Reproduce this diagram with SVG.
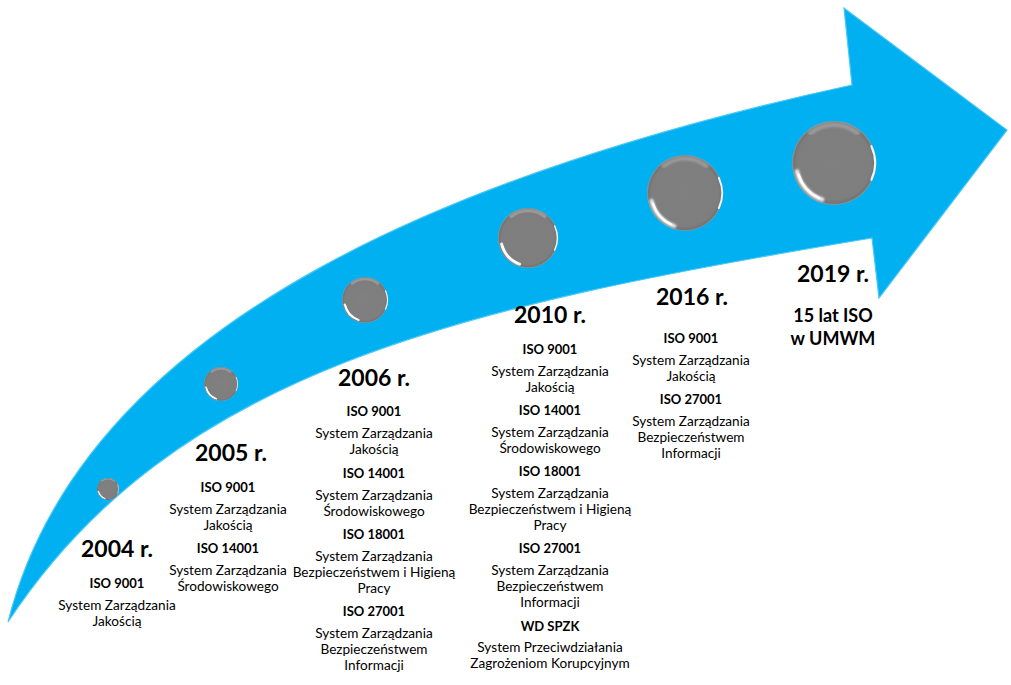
<svg xmlns="http://www.w3.org/2000/svg" xmlns:xlink="http://www.w3.org/1999/xlink" width="1011" height="685" viewBox="0 0 1011 685">
<defs>
<style>
.yr{font-family:Lato,"Liberation Sans",sans-serif;font-weight:bold;font-size:23px;fill:#000;text-anchor:middle}
.iso{font-family:Lato,"Liberation Sans",sans-serif;font-weight:bold;font-size:13px;fill:#000;text-anchor:middle}
.tx{font-family:Lato,"Liberation Sans",sans-serif;font-size:13.6px;fill:#000;text-anchor:middle}
.big{font-family:Lato,"Liberation Sans",sans-serif;font-weight:bold;font-size:18px;fill:#000;text-anchor:middle}
</style>
<radialGradient id="ballFill" cx="0.5" cy="0.5" r="0.5">
<stop offset="0" stop-color="#808080"/>
<stop offset="0.88" stop-color="#7e7e7e"/>
<stop offset="0.96" stop-color="#747474"/>
<stop offset="1" stop-color="#9a9a9a"/>
</radialGradient>
<filter id="soft" x="-20%" y="-20%" width="140%" height="140%">
<feGaussianBlur stdDeviation="1.2"/>
</filter>
<symbol id="ball" viewBox="-50 -50 100 100" overflow="visible">
<circle r="50" fill="url(#ballFill)"/>
<path d="M -28 -36 A 45 45 0 0 1 28 -36" fill="none" stroke="#bdbdbd" stroke-width="6" stroke-linecap="round" opacity="0.45" filter="url(#soft)"/>
<path d="M 44.5 -20 A 48 48 0 0 1 44.5 20" fill="none" stroke="#ffffff" stroke-width="2.5" stroke-linecap="round" opacity="0.9"/>
<path d="M -14 43.5 A 45.5 45.5 0 0 1 -44 10" fill="none" stroke="#ffffff" stroke-width="5" stroke-linecap="round" opacity="0.9" filter="url(#soft)"/>
<path d="M -18 41.5 A 45.5 45.5 0 0 1 -42 14" fill="none" stroke="#ffffff" stroke-width="3" stroke-linecap="round"/>
</symbol>
</defs>
<rect width="1011" height="685" fill="#ffffff"/>
<g id="connectors">
<path id="arrow" d="M 8 622 C 86 312 481 166 852 85 L 844 8 L 1007 130 L 879 298 L 872 238 C 457.5 306.5 173 371.5 8 622 Z" fill="#00B0F0" stroke="#4cc8f4" stroke-width="1.2" stroke-linejoin="miter"/>
</g>
<g id="y2004">
<use xlink:href="#ball" href="#ball" x="97" y="478" width="22" height="22"/>
<text class="yr" x="117" y="557">2004 r.</text>
<text class="iso" x="117" y="588">ISO 9001</text>
<text class="tx" x="117" y="610">System Zarządzania</text>
<text class="tx" x="117" y="626">Jakością</text>
</g>
<g id="y2005">
<use xlink:href="#ball" href="#ball" x="204" y="367" width="34" height="34"/>
<text class="yr" x="231" y="461">2005 r.</text>
<text class="iso" x="228" y="492">ISO 9001</text>
<text class="tx" x="228" y="514">System Zarządzania</text>
<text class="tx" x="228" y="530">Jakością</text>
<text class="iso" x="228" y="553">ISO 14001</text>
<text class="tx" x="228" y="575">System Zarządzania</text>
<text class="tx" x="228" y="591">Środowiskowego</text>
</g>
<g id="y2006">
<use xlink:href="#ball" href="#ball" x="342" y="277" width="46" height="46"/>
<text class="yr" x="374" y="386">2006 r.</text>
<text class="iso" x="374" y="416">ISO 9001</text>
<text class="tx" x="374" y="438">System Zarządzania</text>
<text class="tx" x="374" y="454">Jakością</text>
<text class="iso" x="374" y="478">ISO 14001</text>
<text class="tx" x="374" y="500">System Zarządzania</text>
<text class="tx" x="374" y="516">Środowiskowego</text>
<text class="iso" x="374" y="539">ISO 18001</text>
<text class="tx" x="374" y="561">System Zarządzania</text>
<text class="tx" x="374" y="577">Bezpieczeństwem i Higieną</text>
<text class="tx" x="374" y="593">Pracy</text>
<text class="iso" x="374" y="616">ISO 27001</text>
<text class="tx" x="374" y="638">System Zarządzania</text>
<text class="tx" x="374" y="654">Bezpieczeństwem</text>
<text class="tx" x="374" y="670">Informacji</text>
</g>
<g id="y2010">
<use xlink:href="#ball" href="#ball" x="498" y="208" width="60" height="60"/>
<text class="yr" x="550" y="323">2010 r.</text>
<text class="iso" x="550" y="354">ISO 9001</text>
<text class="tx" x="550" y="376">System Zarządzania</text>
<text class="tx" x="550" y="392">Jakością</text>
<text class="iso" x="550" y="415">ISO 14001</text>
<text class="tx" x="550" y="437">System Zarządzania</text>
<text class="tx" x="550" y="453">Środowiskowego</text>
<text class="iso" x="550" y="476">ISO 18001</text>
<text class="tx" x="550" y="498">System Zarządzania</text>
<text class="tx" x="550" y="514">Bezpieczeństwem i Higieną</text>
<text class="tx" x="550" y="530">Pracy</text>
<text class="iso" x="550" y="553">ISO 27001</text>
<text class="tx" x="550" y="575">System Zarządzania</text>
<text class="tx" x="550" y="591">Bezpieczeństwem</text>
<text class="tx" x="550" y="607">Informacji</text>
<text class="iso" x="550" y="631">WD SPZK</text>
<text class="tx" x="550" y="652">System Przeciwdziałania</text>
<text class="tx" x="550" y="668">Zagrożeniom Korupcyjnym</text>
</g>
<g id="y2016">
<use xlink:href="#ball" href="#ball" x="647" y="155" width="76" height="76"/>
<text class="yr" x="692" y="305">2016 r.</text>
<text class="iso" x="691" y="343">ISO 9001</text>
<text class="tx" x="691" y="365">System Zarządzania</text>
<text class="tx" x="691" y="381">Jakością</text>
<text class="iso" x="691" y="404">ISO 27001</text>
<text class="tx" x="691" y="426">System Zarządzania</text>
<text class="tx" x="691" y="442">Bezpieczeństwem</text>
<text class="tx" x="691" y="458">Informacji</text>
</g>
<g id="y2019">
<use xlink:href="#ball" href="#ball" x="792" y="121" width="84" height="84"/>
<text class="yr" x="833" y="282">2019 r.</text>
<text class="big" x="833" y="322">15 lat ISO</text>
<text class="big" x="833" y="345">w UMWM</text>
</g>
</svg>
